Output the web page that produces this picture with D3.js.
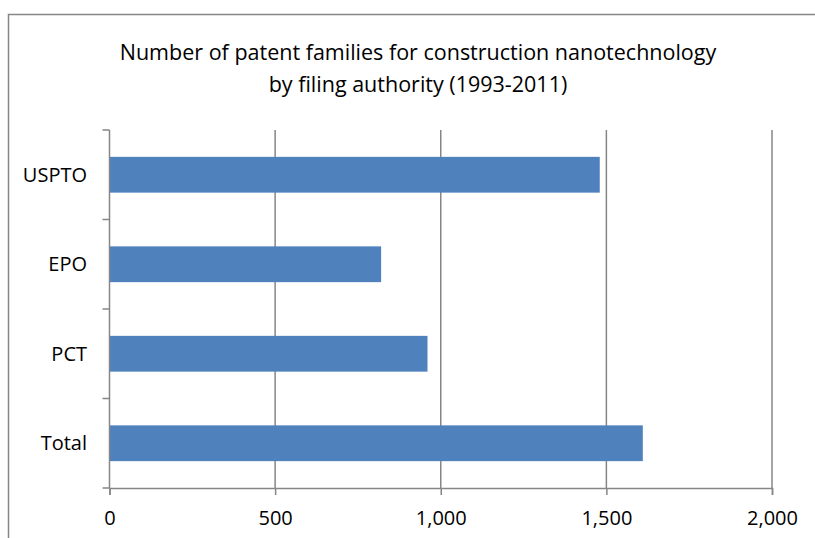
<!DOCTYPE html>
<meta charset="utf-8">
<style>
  body { margin: 0; background: #fff; }
  svg text { font-family: "Open Sans", "Noto Sans", sans-serif; fill: #000; }
</style>
<svg width="815" height="538"></svg>
<script src="https://d3js.org/d3.v7.min.js"></script>
<script>
// data
var categories = ["USPTO", "EPO", "PCT", "Total"];
var values = [1480, 820, 960, 1610];
var xTicks = [0, 500, 1000, 1500, 2000];
var titleLines = ["Number of patent families for construction nanotechnology",
                  "by filing authority (1993-2011)"];

var svg = d3.select("svg");

// chart frame
svg.append("path")
    .attr("d", "M8.5,538 V14.5 H815")
    .attr("fill", "none")
    .attr("stroke", "#868686")
    .attr("stroke-width", 1.5);

// title
svg.append("text")
    .attr("text-anchor", "middle")
    .attr("font-size", 21.5)
  .selectAll("tspan")
  .data(titleLines)
  .join("tspan")
    .attr("x", 418)
    .attr("y", (d, i) => 60 + i * 32)
    .text(d => d);

// scales
var x = d3.scaleLinear()
    .domain([0, 2000])
    .range([109.5, 772]);

var y = d3.scaleBand()
    .domain(categories)
    .range([130, 488])
    .paddingInner(0.6)
    .paddingOuter(0.3);

// gridlines
svg.append("g")
  .selectAll("line")
  .data(xTicks.slice(1))
  .join("line")
    .attr("x1", d => x(d))
    .attr("x2", d => x(d))
    .attr("y1", 130)
    .attr("y2", 488)
    .attr("stroke", "#868686")
    .attr("stroke-width", 1.5);

// bars
svg.append("g")
  .selectAll("rect")
  .data(values)
  .join("rect")
    .attr("x", x(0))
    .attr("y", (d, i) => y(categories[i]))
    .attr("width", d => x(d) - x(0))
    .attr("height", y.bandwidth())
    .attr("fill", "#4F81BD");

// x axis
var xAxis = svg.append("g")
    .attr("transform", "translate(0,488)")
    .call(d3.axisBottom(x).tickValues(xTicks).tickSize(7).tickPadding(16)
      .tickFormat(d3.format(",")));

// y axis (ticks at category boundaries)
var bounds = d3.range(categories.length + 1).map(i => 130 + i * (488 - 130) / categories.length);
var yAxis = svg.append("g");
yAxis.append("line")
    .attr("x1", x(0)).attr("x2", x(0))
    .attr("y1", 130).attr("y2", 488)
    .attr("stroke", "#868686").attr("stroke-width", 1.5);
yAxis.selectAll(".tk")
  .data(bounds)
  .join("line")
    .attr("class", "tk")
    .attr("x1", x(0) - 7).attr("x2", x(0))
    .attr("y1", d => d).attr("y2", d => d)
    .attr("stroke", "#868686").attr("stroke-width", 1.5);
yAxis.selectAll("text")
  .data(categories)
  .join("text")
    .attr("x", 87)
    .attr("y", d => y(d) + y.bandwidth() / 2)
    .attr("dy", "0.35em")
    .attr("text-anchor", "end")
    .attr("font-size", 20)
    .text(d => d);

xAxis.select(".domain").attr("stroke", "#868686").attr("stroke-width", 1.5);
xAxis.selectAll(".tick line").attr("stroke", "#868686").attr("stroke-width", 1.5);
xAxis.selectAll(".tick text")
    .attr("font-size", 20)
    .attr("fill", "#000")
    .style("font-family", "'Open Sans', 'Noto Sans', sans-serif");
</script>
